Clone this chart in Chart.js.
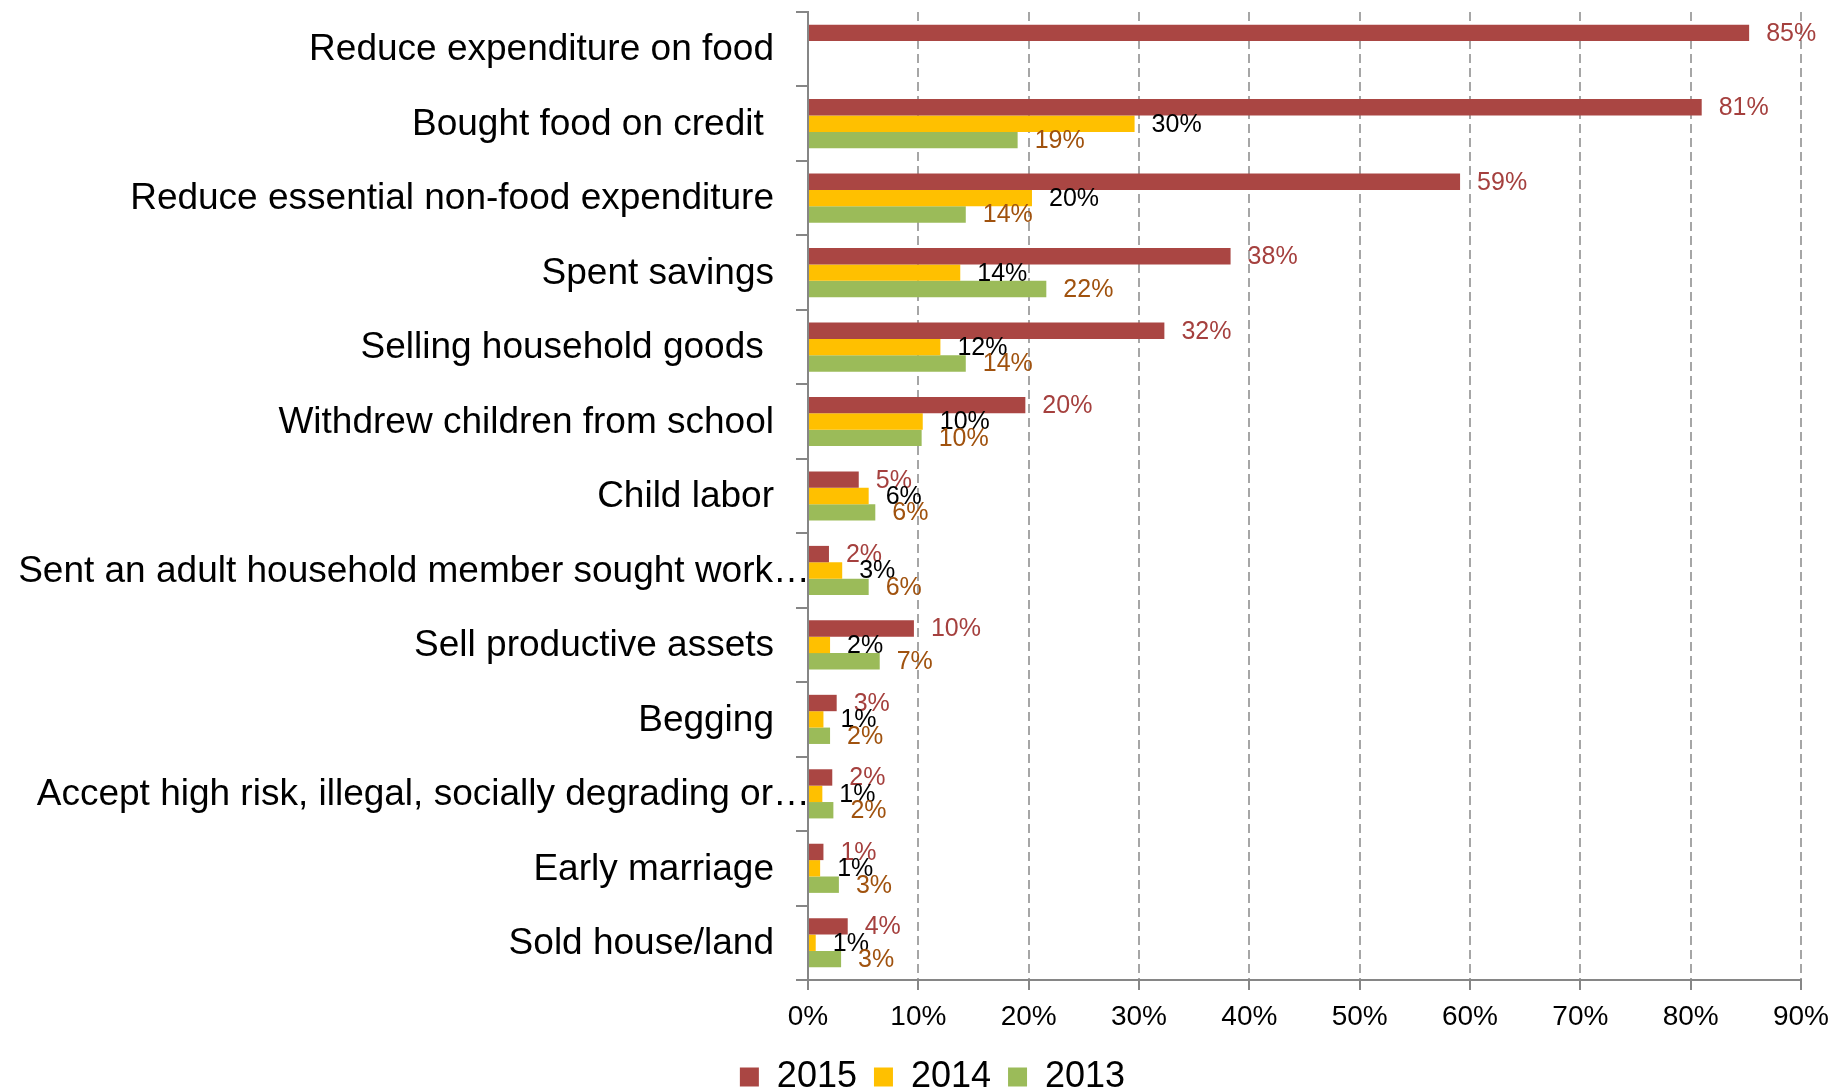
<!DOCTYPE html>
<html>
<head>
<meta charset="utf-8">
<title>Coping strategies 2013-2015</title>
<script src="https://cdn.jsdelivr.net/npm/chart.js@4.4.1/dist/chart.umd.min.js"></script>
<style>
    html, body { margin: 0; padding: 0; background: #fff; }
    #wrap { width: 1834px; height: 1092px; position: relative; }
</style>
</head>
<body>
<div id="wrap"><canvas id="copingChart"></canvas></div>
<script>
// Data
const categories = [
    "Reduce expenditure on food",
    "Bought food on credit ",
    "Reduce essential non-food expenditure",
    "Spent savings",
    "Selling household goods ",
    "Withdrew children from school",
    "Child labor",
    "Sent an adult household member sought work…",
    "Sell productive assets",
    "Begging",
    "Accept high risk, illegal, socially degrading or…",
    "Early marriage",
    "Sold house/land"
];
const seriesNames = ["2015", "2014", "2013"];
const values2015 = [85.3, 81.0, 59.1, 38.3, 32.3, 19.7, 4.6, 1.9, 9.6, 2.6, 2.2, 1.4, 3.6];
const values2014 = [null, 29.6, 20.3, 13.8, 12.0, 10.4, 5.5, 3.1, 2.0, 1.4, 1.3, 1.1, 0.7];
const values2013 = [null, 19.0, 14.3, 21.6, 14.3, 10.3, 6.1, 5.5, 6.5, 2.0, 2.3, 2.8, 3.0];
const xTicks = [0, 10, 20, 30, 40, 50, 60, 70, 80, 90];

// Styles
const barColors = ["#AA4643", "#FFC000", "#9BBB59"];
const labelColors = ["#A5403E", "#000000", "#A0520E"];
const FONT = "'Liberation Sans', Arial, sans-serif";
const axisGrey = "#868686";

// Value labels at the end of each bar
const barValueLabels = {
    id: "barValueLabels",
    afterDatasetsDraw(chart) {
        const ctx = chart.ctx;
        ctx.save();
        ctx.font = `25px ${FONT}`;
        ctx.textAlign = "left";
        ctx.textBaseline = "middle";
        chart.data.datasets.forEach((ds, i) => {
            const meta = chart.getDatasetMeta(i);
            ctx.fillStyle = labelColors[i];
            meta.data.forEach((bar, j) => {
                const v = ds.data[j];
                if (v == null) return;
                ctx.fillText(Math.round(v) + "%", bar.x + 17, bar.y + 1);
            });
        });
        ctx.restore();
    }
};

// Category names, right aligned next to the axis (cut-off names run up to the axis)
const categoryLabels = {
    id: "categoryLabels",
    afterDraw(chart) {
        const y = chart.scales.y;
        const ctx = chart.ctx;
        ctx.save();
        ctx.font = `37px ${FONT}`;
        ctx.fillStyle = "#000";
        ctx.textAlign = "right";
        ctx.textBaseline = "middle";
        categories.forEach((name, i) => {
            const x = name.endsWith("…") ? y.right + 2 : y.right - 34;
            ctx.fillText(name, x, y.getPixelForTick(i) + 1);
        });
        ctx.restore();
    }
};

const datasets = [values2015, values2014, values2013].map((vals, i) => ({
    label: seriesNames[i],
    data: vals,
    backgroundColor: barColors[i],
    borderWidth: 0,
    categoryPercentage: 0.66,
    barPercentage: 1.0
}));

new Chart(document.getElementById("copingChart"), {
    type: "bar",
    data: { labels: categories, datasets: datasets },
    plugins: [barValueLabels, categoryLabels],
    options: {
        indexAxis: "y",
        responsive: true,
        maintainAspectRatio: false,
        animation: false,
        layout: { padding: { top: 12, right: 33, left: 64, bottom: -13 } },
        plugins: {
            tooltip: { enabled: false },
            legend: {
                position: "bottom",
                labels: {
                    font: { family: FONT, size: 36 },
                    color: "#000",
                    boxWidth: 19,
                    boxHeight: 19,
                    padding: 17
                }
            }
        },
        scales: {
            x: {
                min: 0,
                max: 90,
                // fixed height; the 90% label fits inside the right padding
                afterFit: (scale) => {
                    scale.height = 62;
                    scale.paddingRight = 0;
                },
                afterBuildTicks: (scale) => { scale.ticks = xTicks.map(v => ({ value: v })); },
                ticks: {
                    font: { family: FONT, size: 28 },
                    color: "#000",
                    padding: 10,
                    callback: (v) => v + "%"
                },
                grid: {
                    color: (c) => c.index === 0 ? "rgba(0,0,0,0)" : "#A6A6A6",
                    lineWidth: 2,
                    tickColor: axisGrey,
                    tickWidth: 2,
                    tickLength: 10
                },
                border: { color: axisGrey, width: 2, dash: [9, 5] }
            },
            y: {
                offset: true,
                afterFit: (scale) => { scale.width = 808 - 64; },
                ticks: { display: false },
                grid: {
                    offset: true,
                    drawOnChartArea: false,
                    color: axisGrey,
                    lineWidth: 2,
                    tickLength: 12
                },
                border: { color: axisGrey, width: 2 }
            }
        }
    }
});
</script>
</body>
</html>
